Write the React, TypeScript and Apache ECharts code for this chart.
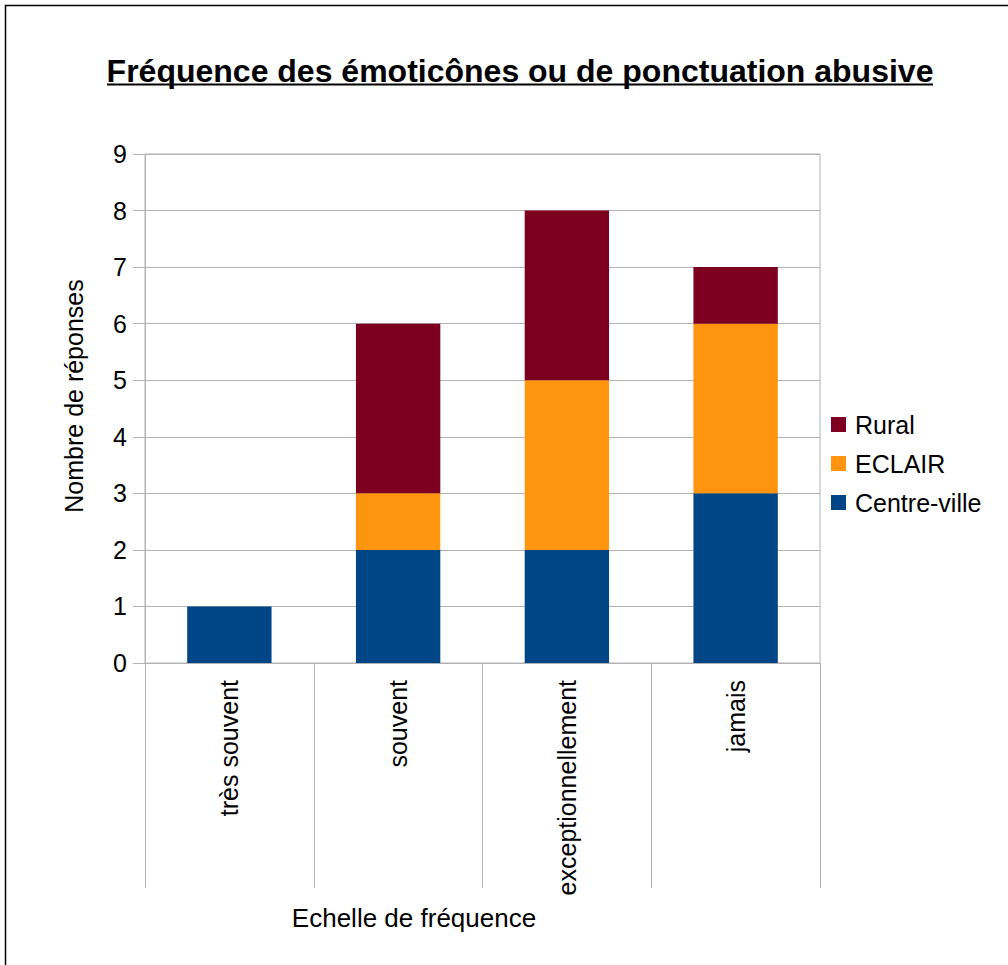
import React, { useEffect, useRef } from "react";
import * as echarts from "echarts";

const categories = ["très souvent", "souvent", "exceptionnellement", "jamais"];
const centreVille = [1, 2, 2, 3];
const eclair = [0, 1, 3, 3];
const rural = [0, 3, 3, 1];
const legendOrder = ["Rural", "ECLAIR", "Centre-ville"];
const titleText = "Fréquence des émoticônes ou de ponctuation abusive";
const xName = "Echelle de fréquence";
const yName = "Nombre de réponses";

const FONT = "'Liberation Sans', Arial, sans-serif";
const GRID = "#b3b3b3";

export default function App() {
  const ref = useRef<HTMLDivElement>(null);
  useEffect(() => {
    if (!ref.current) return;
    const chart = echarts.init(ref.current, null, { renderer: "svg" });
    chart.setOption({
      animation: false,
      backgroundColor: "#ffffff",
      textStyle: { fontFamily: FONT },
      grid: { left: 145, right: 188, top: 154, bottom: 302, containLabel: false, show: true, borderColor: GRID, borderWidth: 1 },
      legend: {
        data: legendOrder,
        orient: "vertical",
        left: 826,
        top: 407,
        itemWidth: 15,
        itemHeight: 15,
        itemGap: 14,
        icon: "rect",
        textStyle: { fontSize: 25, color: "#000", fontFamily: FONT, padding: [0, 0, 0, 4], lineHeight: 25 },
      },
      xAxis: {
        type: "category",
        data: categories,
        axisLine: { show: true, lineStyle: { color: GRID } },
        axisTick: { show: true, length: 225, interval: 0, lineStyle: { color: GRID } },
        axisLabel: { rotate: 90, margin: 17, fontSize: 25, color: "#000", interval: 0, fontFamily: FONT },
      },
      yAxis: {
        type: "value",
        min: 0,
        max: 9,
        interval: 1,
        axisLine: { show: true, lineStyle: { color: GRID } },
        axisTick: { show: true, length: 12, lineStyle: { color: GRID } },
        axisLabel: { margin: 18, fontSize: 25, color: "#000", fontFamily: FONT },
        splitLine: { show: true, lineStyle: { color: GRID } },
      },
      series: [
        { name: "Centre-ville", type: "bar", stack: "s", data: centreVille, barWidth: "50%", itemStyle: { color: "#004586" } },
        { name: "ECLAIR", type: "bar", stack: "s", data: eclair, barWidth: "50%", itemStyle: { color: "#ff950e" } },
        { name: "Rural", type: "bar", stack: "s", data: rural, barWidth: "50%", itemStyle: { color: "#7e0021" } },
      ],
      graphic: [
        { type: "rect", shape: { x: 5.5, y: 5.5, width: 1100, height: 1100 }, style: { fill: "none", stroke: "#000", lineWidth: 1.5 }, silent: true },
        { type: "text", x: 520, y: 71, style: { text: titleText, font: `bold 32px ${FONT}`, fill: "#000", align: "center", verticalAlign: "middle" } },
        { type: "line", shape: { x1: 107, y1: 84.5, x2: 933, y2: 84.5 }, style: { stroke: "#000", lineWidth: 2 } },
        { type: "text", x: 414, y: 918, style: { text: xName, font: `26px ${FONT}`, fill: "#000", align: "center", verticalAlign: "middle" } },
        { type: "text", x: 74, y: 396, rotation: Math.PI / 2, style: { text: yName, font: `25px ${FONT}`, fill: "#000", align: "center", verticalAlign: "middle" } },
      ],
    });
    return () => chart.dispose();
  }, []);
  return <div ref={ref} style={{ position: "absolute", left: 0, top: 0, width: 1008, height: 965 }} />;
}
